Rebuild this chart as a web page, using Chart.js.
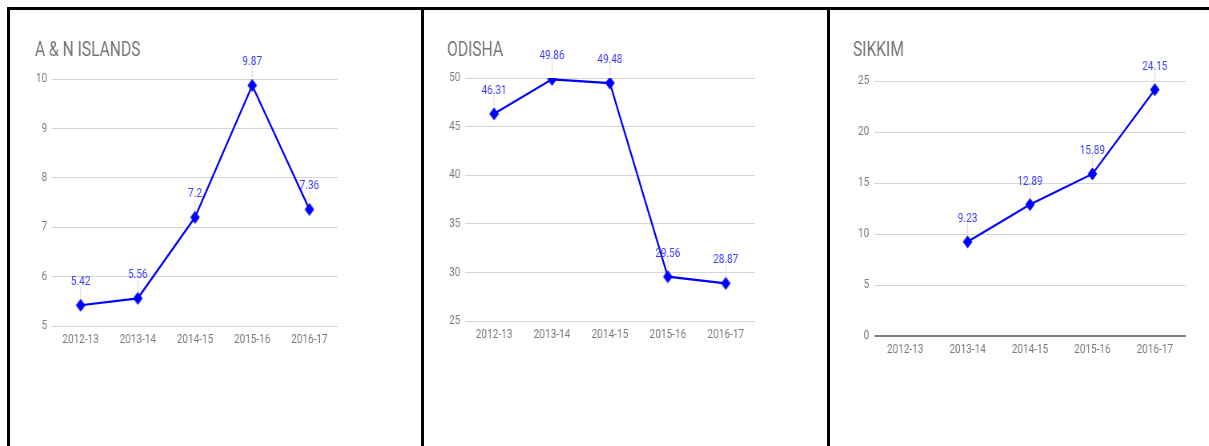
<!DOCTYPE html>
<html>
<head>
<meta charset="utf-8">
<script src="https://cdn.jsdelivr.net/npm/chart.js@4"></script>
<style>
  html, body { margin: 0; padding: 0; background: #fff; }
  body { width: 1209px; height: 446px; position: relative; overflow: hidden; }
  .wrap { position: absolute; top: 0; height: 446px; transform-origin: 0 0; transform: scaleX(0.8); }
  .bar { position: absolute; background: #000; }
</style>
</head>
<body>
<div class="wrap" style="left:0;width:526.25px"><canvas id="c1"></canvas></div>
<div class="wrap" style="left:421px;width:508.75px"><canvas id="c2"></canvas></div>
<div class="wrap" style="left:828px;width:476.25px"><canvas id="c3"></canvas></div>
<div class="bar" style="left:7px;top:7px;width:1202px;height:3px"></div>
<div class="bar" style="left:7px;top:7px;width:3px;height:439px"></div>
<div class="bar" style="left:421px;top:7px;width:3px;height:439px"></div>
<div class="bar" style="left:827px;top:7px;width:3px;height:439px"></div>
<script>
const categories = ['2012-13', '2013-14', '2014-15', '2015-16', '2016-17'];

const anTitle = 'A & N ISLANDS';
const anValues = [5.42, 5.56, 7.2, 9.87, 7.36];
const anTicks = [5, 6, 7, 8, 9, 10];

const odTitle = 'ODISHA';
const odValues = [46.31, 49.86, 49.48, 29.56, 28.87];
const odTicks = [25, 30, 35, 40, 45, 50];

const skTitle = 'SIKKIM';
const skValues = [null, 9.23, 12.89, 15.89, 24.15];
const skTicks = [0, 5, 10, 15, 20, 25];

const FONT = "Roboto, 'Noto Sans', sans-serif";
const LINE = '#0000ff';

function diamond() {
  const c = document.createElement('canvas');
  c.width = 13; c.height = 14;
  const g = c.getContext('2d');
  g.fillStyle = LINE;
  g.beginPath();
  g.moveTo(6.5, 0.5); g.lineTo(12.5, 7); g.lineTo(6.5, 13.5); g.lineTo(0.5, 7);
  g.closePath(); g.fill();
  return c;
}
const marker = diamond();

const decor = {
  id: 'decor',
  afterDatasetsDraw(chart, args, opts) {
    const ctx = chart.ctx;
    ctx.save();
    ctx.font = '19.5px ' + FONT;
    ctx.fillStyle = '#757575';
    ctx.textAlign = 'left';
    ctx.textBaseline = 'alphabetic';
    ctx.fillText(opts.title, opts.titleX, 56);
    const meta = chart.getDatasetMeta(0);
    const data = chart.data.datasets[0].data;
    ctx.font = '12.5px ' + FONT;
    ctx.textAlign = 'center';
    meta.data.forEach((pt, i) => {
      const v = data[i];
      if (v === null || v === undefined) return;
      ctx.strokeStyle = '#e0e0e0';
      ctx.lineWidth = 1.2;
      ctx.beginPath();
      ctx.moveTo(pt.x, pt.y - 7);
      ctx.lineTo(pt.x, pt.y - 19);
      ctx.stroke();
      ctx.fillStyle = '#3c3cff';
      ctx.fillText(String(v), pt.x, pt.y - 20);
    });
    ctx.restore();
  }
};

function makeChart(id, title, titleX, values, ticks, yWidth, pad, baseZero) {
  const min = ticks[0], max = ticks[ticks.length - 1];
  return new Chart(document.getElementById(id), {
    type: 'line',
    data: {
      labels: categories,
      datasets: [{
        data: values,
        borderColor: LINE,
        borderWidth: 2.2,
        tension: 0,
        pointStyle: marker,
        pointRadius: 6,
        pointHoverRadius: 6,
        fill: false
      }]
    },
    options: {
      responsive: true,
      maintainAspectRatio: false,
      animation: false,
      events: [],
      layout: { padding: pad },
      plugins: {
        legend: { display: false },
        tooltip: { enabled: false },
        decor: { title: title, titleX: titleX }
      },
      scales: {
        x: {
          offset: true,
          grid: { display: false, drawTicks: false },
          border: { display: false },
          ticks: { color: '#7a7a7a', font: { family: FONT, size: 12.5 }, padding: 6, maxRotation: 0, autoSkip: false },
          afterFit(s) { s.height = 30; }
        },
        y: {
          min: min, max: max,
          afterBuildTicks(s) { s.ticks = ticks.map(v => ({ value: v })); },
          grid: {
            drawTicks: false,
            color: c => (baseZero && c.tick && c.tick.value === 0) ? '#808080' : '#d4d4d4',
            lineWidth: c => (baseZero && c.tick && c.tick.value === 0) ? 2 : 1
          },
          border: { display: false },
          ticks: { color: '#7a7a7a', font: { family: FONT, size: 12.5 }, padding: 6 },
          afterFit(s) { s.width = yWidth; }
        }
      }
    },
    plugins: [decor]
  });
}

makeChart('c1', anTitle, 43.75, anValues, anTicks, 65, { left: 0, top: 79, right: 103.75, bottom: 90 }, false);
makeChart('c2', odTitle, 32.5, odValues, odTicks, 55, { left: 0, top: 78, right: 92.5, bottom: 95 }, false);
makeChart('c3', skTitle, 31.25, skValues, skTicks, 57.5, { left: 0, top: 81, right: 28.75, bottom: 80 }, true);
</script>
</body>
</html>
